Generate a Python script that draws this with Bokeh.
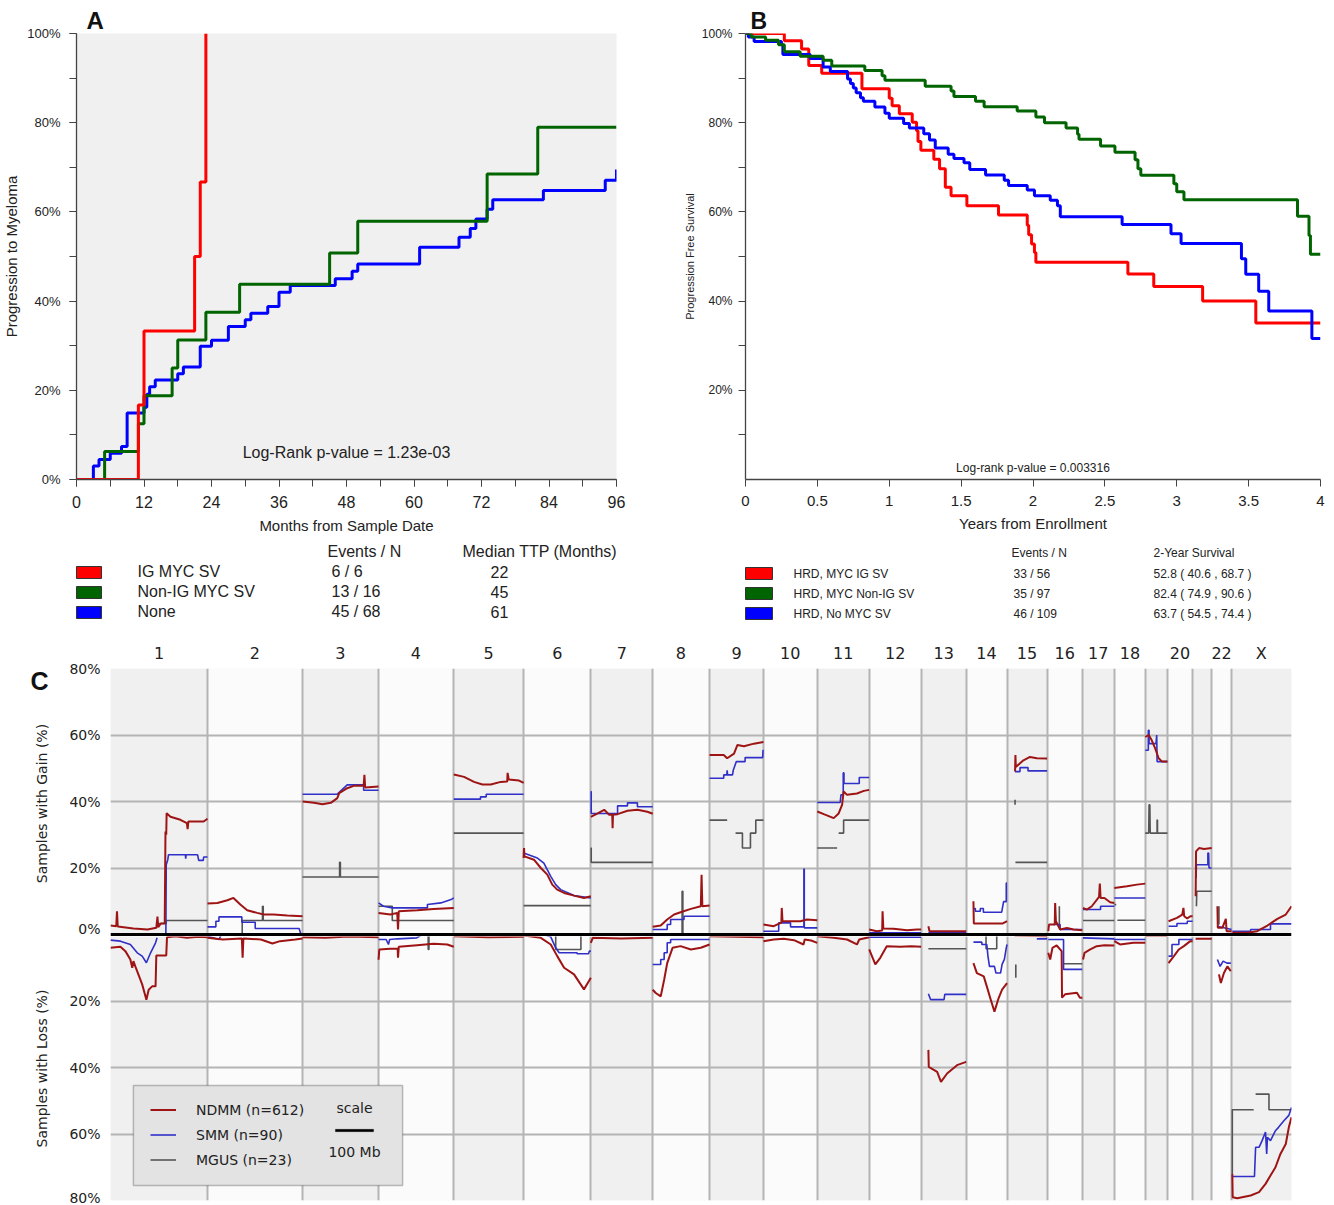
import math
from bokeh.plotting import figure
from bokeh.layouts import column, row
from bokeh.models import (Range1d, SingleIntervalTicker, FixedTicker, Span, Title,
                          BoxAnnotation, Legend, LegendItem, Label)
from bokeh.embed import file_html
from bokeh.resources import INLINE
from bokeh.core.properties import value

SANS = "Liberation Sans"
DV = "DejaVu Sans"

# ---------------- Panel A data (progression to myeloma) ----------------
a_names = ["IG MYC SV", "Non-IG MYC SV", "None"]
a_colors = ["#ff0000", "#006400", "#0000ff"]
a_events = ["6 / 6", "13 / 16", "45 / 68"]
a_median = ["22", "45", "61"]
a_ig_months = [0, 11, 12, 21, 22, 23]
a_ig_pct = [0, 16.7, 33.3, 50.0, 66.7, 100.0]
a_nonig_months = [0, 5, 11, 12, 17, 18, 23, 29, 45, 50, 73, 82, 96]
a_nonig_pct = [0, 6.3, 12.5, 18.8, 25.0, 31.3, 37.5, 43.8, 50.8, 57.9, 68.5, 79.0, 79.0]
a_none_months = [0, 3, 4, 6, 8, 9, 12, 12.5, 13, 14, 18, 19, 22, 24, 27, 30, 31, 34, 36, 38,
                 46, 49, 50, 61, 68, 70, 71, 73, 74, 83, 94, 96]
a_none_pct = [0, 3.0, 4.5, 5.9, 7.4, 14.9, 16.2, 19.1, 20.8, 22.3, 23.7, 25.2, 29.9, 31.2, 34.3,
              35.8, 37.3, 38.8, 42.0, 43.5, 45.0, 46.7, 48.3, 52.1, 54.3, 56.3, 58.4, 60.6, 62.7,
              64.8, 67.1, 69.5]
a_yticks = [0, 20, 40, 60, 80, 100]

# ---------------- Panel B data (progression free survival) ----------------
b_names = ["HRD, MYC IG SV", "HRD, MYC Non-IG SV", "HRD, No MYC SV"]
b_colors = ["#ff0000", "#006400", "#0000ff"]
b_events = ["33 / 56", "35 / 97", "46 / 109"]
b_surv = ["52.8 ( 40.6 , 68.7 )", "82.4 ( 74.9 , 90.6 )", "63.7 ( 54.5 , 74.4 )"]
b_ig_years = [0, 0.27, 0.39, 0.44, 0.53, 0.81, 1.0, 1.02, 1.07, 1.16, 1.19, 1.2, 1.22, 1.31, 1.35,
              1.39, 1.43, 1.54, 1.76, 1.96, 1.97, 1.99, 2.01, 2.02, 2.66, 2.84, 3.18, 3.55, 4.0]
b_ig_pct = [100, 98.4, 96.5, 92.8, 91.1, 87.6, 85.5, 83.8, 82.0, 80.1, 78.2, 75.8, 73.8, 71.8, 69.7,
            65.5, 63.6, 61.4, 59.3, 57.0, 54.9, 52.8, 50.9, 48.7, 46.1, 43.3, 40.0, 35.1, 35.1]
b_nonig_years = [0, 0.04, 0.14, 0.23, 0.27, 0.38, 0.54, 0.60, 0.83, 0.95, 0.97, 1.25, 1.43, 1.45,
                 1.60, 1.66, 1.89, 2.02, 2.08, 2.23, 2.31, 2.32, 2.47, 2.57, 2.71, 2.73, 2.75,
                 2.98, 3.0, 3.05, 3.84, 3.92, 3.93, 4.0]
b_nonig_pct = [100, 99.2, 98.5, 97.5, 95.9, 94.9, 94.0, 92.7, 91.7, 90.5, 89.5, 88.2, 87.1, 85.9,
               84.8, 83.6, 82.6, 81.3, 80.0, 78.8, 77.4, 76.3, 74.8, 73.4, 71.7, 69.7, 68.2,
               66.3, 64.5, 62.7, 59.0, 54.7, 50.5, 50.5]
b_none_years = [0, 0.02, 0.06, 0.25, 0.26, 0.45, 0.54, 0.59, 0.71, 0.73, 0.75, 0.77, 0.80, 0.82,
                0.90, 0.97, 1.0, 1.1, 1.14, 1.24, 1.28, 1.32, 1.41, 1.45, 1.52, 1.56, 1.67, 1.80,
                1.83, 1.96, 2.01, 2.12, 2.17, 2.19, 2.62, 2.96, 3.03, 3.45, 3.48, 3.57, 3.64,
                3.94, 4.0]
b_none_pct = [100, 99.2, 98.2, 97.5, 95.3, 94.4, 92.5, 91.5, 89.8, 88.8, 87.8, 86.7, 85.6, 84.8,
              83.5, 82.1, 81.0, 79.8, 78.8, 77.5, 76.1, 74.3, 72.9, 72.0, 71.0, 69.5, 68.3, 67.1,
              65.9, 64.9, 63.6, 62.6, 61.4, 58.9, 57.2, 55.1, 52.9, 49.5, 46.0, 42.2, 37.8,
              31.6, 31.6]
b_xticks = [0, 0.5, 1, 1.5, 2, 2.5, 3, 3.5, 4]
b_yticks = [20, 40, 60, 80, 100]

# ---------------- Panel C data (copy-number frequency, Mb within chromosome, %) ----------------
chrom_names = ["1", "2", "3", "4", "5", "6", "7", "8", "9", "10", "11", "12", "13", "14", "15",
               "16", "17", "18", "19", "20", "21", "22", "X"]
chrom_mb = [254, 249, 199, 197, 183, 176, 162, 149, 141, 141, 136, 136, 118, 107, 105, 92, 84,
            81, 58, 66, 50, 52, 157]
chrom_unlabeled = ["19", "21"]
c_gain_ticks = [0, 20, 40, 60, 80]
c_loss_ticks = [-80, -60, -40, -20]
c_series = ["NDMM (n=612)", "SMM (n=90)", "MGUS (n=23)"]
c_colors = ["#9e1414", "#3030c8", "#555555"]
SCALE_MB = 100

ndmm_gain = {
    "1": [(0, 2.7), (15, 2.5), (17, 7), (19, 2.4), (60, 1.8), (97, 1.5), (120, 2.0), (123, 5.4),
          (125, 2.2), (132, 3.3), (142, 3.3), (144, 31), (146, 30), (147, 36.5), (157, 35.4),
          (183, 34.5), (200, 33.5), (202, 31.7), (204, 34), (228, 34), (244, 34), (254, 34.8)],
    "2": [(0, 9.3), (26, 9.5), (52, 10.3), (68, 11), (86, 9), (104, 7.3), (130, 6.5), (148, 6),
          (173, 6), (209, 5.7), (249, 5.5)],
    "3": [(0, 40), (30, 39.6), (52, 39.2), (74, 39.6), (91, 41), (96, 42.5), (117, 44), (134, 44.7),
          (160, 44.7), (162, 48), (164, 44.2), (199, 44.5)],
    "4": [(0, 6.5), (31, 6), (49, 6.5), (51, 1.5), (53, 7), (101, 7.3), (144, 7.7), (197, 8)],
    "5": [(0, 48.1), (27, 47.4), (53, 45.9), (75, 45.1), (97, 45.1), (123, 45.9), (140, 46),
          (141, 48.6), (144, 46.6), (171, 46.3), (183, 45.6)],
    "6": [(0, 23), (1, 26), (2, 23.5), (27, 22.5), (45, 20), (62, 18), (75, 15), (88, 13.5),
          (106, 12.5), (132, 11.7), (158, 11), (176, 11.5)],
    "7": [(0, 35.4), (18, 36.4), (35, 37.5), (48, 36), (56, 36), (57, 32), (58, 36), (70, 36.2),
          (96, 37.2), (122, 37.5), (148, 36.9), (162, 36.3)],
    "8": [(0, 2.3), (21, 2.7), (38, 4.5), (56, 6), (73, 6.7), (100, 7.7), (126, 8.5), (128, 18),
          (130, 8.5), (149, 8.7)],
    "9": [(0, 54), (37, 54), (46, 53), (64, 54.4), (73, 57), (90, 56.6), (116, 57.4), (141, 57.9)],
    "10": [(0, 3), (27, 2.5), (45, 3.5), (47, 3.5), (48, 8), (50, 4), (97, 4), (114, 4.5),
           (141, 4.3)],
    "11": [(0, 37), (17, 36.2), (43, 35), (56, 36.4), (65, 39), (69, 43), (78, 42), (104, 42.4),
           (122, 43.2), (136, 43.5)],
    "12": [(0, 1.5), (20, 1), (34, 1.2), (35, 7), (37, 1.8), (64, 1.7), (99, 1.3), (125, 1.5),
           (136, 1.5)],
    "13": [(19, 2.5), (22, 1), (118, 1)],
    "14": [(19, 10), (20, 3.3), (60, 3.3), (95, 3.3), (107, 4)],
    "15": [(21, 49), (22, 54), (23, 50.4), (43, 52.4), (60, 53.4), (78, 53), (105, 52.9)],
    "16": [(3, 1), (5, 3), (20, 3), (21, 9.5), (23, 4), (34, 1.5), (52, 2), (69, 1.5), (92, 1.3)],
    "17": [(2, 8), (12, 7.5), (25, 8.5), (44, 11.3), (46, 15.3), (48, 11), (58, 11), (73, 9.7),
           (84, 9.5)],
    "18": [(0, 14), (33, 14.5), (59, 15), (81, 15.3)],
    "19": [(0, 59.4), (9, 60), (17, 58.4), (26, 56), (35, 53), (44, 52), (58, 52)],
    "20": [(3, 4), (25, 5), (39, 6), (42, 8), (44, 5.5), (52, 4.8), (60, 5.5), (66, 5.5)],
    "21": [(8, 11.5), (9, 25), (17, 26), (30, 25.7), (50, 26)],
    "22": [(15, 8.5), (16, 2), (28, 2), (37, 4.7), (39, 1), (52, 1)],
    "X": [(2, 0.5), (41, 0.5), (67, 1), (94, 2.7), (120, 4.7), (142, 6), (157, 8.5)],
}
ndmm_loss = {
    "1": [(0, 4), (26, 3.7), (39, 5), (52, 7.5), (57, 10), (60, 8), (65, 9.6), (73, 12), (83, 15),
          (94, 19.6), (100, 16.6), (109, 15.6), (118, 15.6), (120, 6.3), (146, 6.3), (148, 0.8),
          (170, 0.5), (200, 1.0), (230, 0.7), (254, 0.8)],
    "2": [(0, 1.0), (40, 1.5), (90, 1.2), (92, 7), (94, 1.2), (140, 1.5), (170, 2.7), (190, 2.0),
          (230, 1.5), (249, 1.2)],
    "3": [(0, 0.8), (60, 1), (120, 0.6), (199, 0.8)],
    "4": [(0, 7.6), (2, 4.5), (31, 4.3), (50, 4.3), (51, 7), (53, 3.7), (101, 3.2), (144, 2.8),
          (180, 3), (197, 3.7)],
    "5": [(0, 0.5), (90, 0.8), (183, 0.7)],
    "6": [(0, 0.3), (45, 1), (71, 3), (88, 6.5), (106, 10), (132, 12), (158, 16.5), (171, 14),
          (176, 13)],
    "7": [(0, 2.5), (5, 1), (80, 1.2), (162, 1)],
    "8": [(0, 16.6), (8, 17.6), (21, 18.6), (30, 13.6), (38, 8.6), (52, 4), (73, 3.5), (100, 4.5),
          (126, 4), (149, 3)],
    "9": [(0, 0.5), (70, 0.7), (141, 0.8)],
    "10": [(0, 2), (27, 1.5), (53, 1.3), (80, 1.7), (105, 3), (108, 1.5), (125, 1.8), (141, 2.5)],
    "11": [(0, 0.5), (43, 1), (78, 1.5), (104, 3), (110, 1.5), (136, 0.8)],
    "12": [(0, 4.5), (16, 9), (29, 7), (46, 3.5), (81, 3.7), (110, 3.5), (136, 3.7)],
    "13": [(19, 34.7), (20, 39.8), (42, 41.3), (52, 44.3), (68, 41.8), (94, 39.3), (118, 38.3)],
    "14": [(19, 8.6), (28, 11.6), (46, 12.6), (54, 15.6), (63, 19.1), (74, 23.2), (85, 19.1),
           (94, 16.6), (107, 14.6)],
    "15": [(20, 0.3), (105, 0.5)],
    "16": [(3, 5.5), (8, 7.5), (14, 4), (25, 3.3), (38, 5), (39, 19), (47, 18), (78, 17.5),
           (86, 19), (92, 19)],
    "17": [(2, 7.5), (6, 5.5), (21, 4.5), (38, 3.5), (58, 3.2), (84, 3.3)],
    "18": [(0, 2), (15, 3), (50, 2.5), (81, 2.5)],
    "19": [(0, 0.4), (58, 0.4)],
    "20": [(3, 8.6), (17, 6.5), (30, 4.5), (43, 3.5), (60, 2), (66, 2)],
    "21": [(8, 1.3), (50, 1.3)],
    "22": [(19, 12), (24, 14.6), (32, 11.6), (41, 9.6), (50, 11)],
    "X": [(2, 72), (3, 79), (15, 79.3), (50, 78.5), (72, 77.5), (89, 75), (102, 72.5), (115, 70),
          (128, 66), (142, 63), (150, 58), (157, 55)],
}
smm_gain = {
    "1": [(145, 0), (146, 21), (150, 22.5), (152, 24), (196, 24), (197, 22.8), (198, 24), (228, 24),
          (231, 22.3), (243, 22.3), (244, 23.3), (254, 23.3)],
    "2": [(0, 2.3), (22, 2.3), (22, 4), (30, 4), (30, 5.3), (90, 5.3), (90, 3.7), (125, 3.7),
          (125, 1.8), (240, 1.8), (244, 0.3)],
    "3": [(0, 42.2), (91, 42.2), (117, 45), (160, 45), (160, 43.4), (199, 43.4)],
    "4": [(0, 9.5), (13, 8.5), (36, 8), (128, 8), (128, 9), (163, 9.5), (190, 10.5), (197, 11)],
    "5": [(0, 40.7), (70, 40.7), (70, 41.4), (85, 41.4), (85, 42.2), (183, 42.2)],
    "6": [(0, 24.5), (36, 23), (53, 21.5), (71, 17.5), (84, 15), (97, 13.5), (132, 11.7), (176, 11)],
    "7": [(0, 43), (1, 43), (1, 36.4), (70, 36.4), (70, 38.7), (96, 38.7), (96, 39.6), (122, 39.6),
          (122, 38.4), (162, 38.4)],
    "8": [(0, 1.5), (38, 1.5), (38, 3), (47, 3), (47, 4.5), (82, 4.5), (82, 5.5), (149, 5.5)],
    "9": [(0, 47), (37, 47), (37, 48), (45, 48), (46, 49.4), (47, 48), (60, 48), (62, 49.4),
          (70, 52), (93, 52), (93, 53.2), (139, 53.2), (140, 55.4), (141, 55.4)],
    "10": [(0, 1), (40, 1), (40, 3.5), (71, 3.5), (71, 2.3), (106, 2.3), (106, 19.7), (107, 19.7),
           (107, 2), (141, 2)],
    "11": [(0, 39.7), (60, 39.7), (62, 42), (68, 42), (68, 48.6), (70, 48.6), (70, 45.4),
           (110, 45.4), (110, 47.2), (136, 47.2)],
    "12": [(0, 0.5), (136, 0.5)],
    "13": [(19, 0.5), (118, 0.5)],
    "14": [(19, 7.8), (24, 7.8), (24, 7), (37, 7), (37, 7.8), (45, 7.8), (45, 6.7), (93, 6.7),
           (98, 9.9), (105, 9.9), (105, 15.5), (107, 15.5)],
    "15": [(21, 49), (34, 49), (34, 50.2), (55, 50.2), (55, 49.2), (105, 49.2)],
    "16": [(18, 3), (34, 3), (34, 1.5), (92, 1.5)],
    "17": [(2, 7.5), (48, 7.5), (48, 8.5), (84, 8.5)],
    "18": [(0, 11), (81, 11)],
    "19": [(0, 55.4), (8, 55.4), (8, 61.4), (10, 61.4), (10, 57.4), (28, 57.4), (30, 60), (31, 52),
           (58, 52)],
    "20": [(3, 2.5), (25, 2.5), (25, 3.3), (52, 3.3), (52, 4), (66, 4)],
    "21": [(9, 17), (10, 21), (40, 21), (40, 24.5), (42, 24.5), (43, 20), (50, 20)],
    "22": [(15, 2.5), (52, 1.5)],
    "X": [(2, 1), (50, 1), (50, 1.5), (102, 1.5), (102, 3.2), (157, 3.2)],
}
smm_loss = {
    "1": [(0, 1.7), (26, 2), (52, 3), (70, 5.5), (83, 6.5), (94, 8.5), (105, 5.5), (118, 2.5),
          (122, 1)],
    "2": [(0, 0.5), (30, 1.5), (35, 0.3)],
    "4": [(0, 1.5), (20, 1.5), (26, 3), (29, 1.5), (50, 1.3), (100, 1), (110, 0.3)],
    "6": [(60, 0.3), (71, 0.7), (84, 4), (93, 5.5), (140, 5.5), (140, 5.8), (170, 5.8), (172, 5),
          (176, 5)],
    "8": [(0, 9), (21, 9), (21, 7.5), (30, 7.5), (30, 5.5), (38, 5.5), (38, 2.5), (47, 2.5),
          (47, 1.5), (149, 1.5)],
    "12": [(0, 0.8), (136, 0.8)],
    "13": [(19, 17.8), (25, 19.6), (60, 19.6), (62, 18), (118, 18)],
    "14": [(19, 2.3), (41, 2.3), (41, 3), (54, 3), (57, 6.5), (61, 9.6), (74, 9.6), (78, 11.6),
           (90, 11.6), (94, 9), (100, 7.5), (105, 4), (107, 3)],
    "15": [(78, 1.3), (105, 1.3)],
    "16": [(3, 1.5), (43, 1.5), (43, 10.5), (92, 10.5)],
    "17": [(2, 1), (84, 1.3)],
    "18": [(0, 1.5), (81, 1.5)],
    "20": [(3, 6.5), (12, 6.5), (12, 3), (30, 3), (30, 1.5), (66, 1.5)],
    "22": [(15, 7.5), (22, 9.6), (30, 8), (40, 8.6), (50, 8.6)],
    "X": [(2, 72.8), (58, 72.8), (60, 72.8), (63, 64), (72, 64), (80, 62), (89, 59.4), (92, 66),
          (94, 61), (102, 62), (115, 59), (123, 58), (137, 56), (150, 54.4), (157, 52)],
}
mgus_gain = {
    "1": [(124, 3.3), (146, 3.3), (146, 4.2), (254, 4.2)],
    "2": [(91, 0), (91, 4.2), (144, 4.2), (144, 8.5), (146, 8.5), (146, 4.2), (249, 4.2)],
    "3": [(0, 17.3), (97, 17.3), (97, 21.7), (99, 21.7), (99, 17.3), (199, 17.3)],
    "4": [(0, 8.5), (36, 8.5), (36, 4.2), (197, 4.2)],
    "5": [(0, 30.5), (183, 30.5)],
    "6": [(0, 8.7), (176, 8.7)],
    "7": [(0, 26), (1, 26), (1, 21.7), (162, 21.7)],
    "8": [(77, 0), (77, 13), (79, 13), (79, 0)],
    "9": [(0, 34.4), (46, 34.4), None, (68, 30.5), (86, 30.5), (86, 26), (107, 26), (107, 30.5),
          (121, 30.5), (121, 34.4), (141, 34.4)],
    "11": [(0, 26), (52, 26), None, (56, 30.5), (69, 30.5), (69, 34.4), (136, 34.4)],
    "15": [(21, 40.5), (21, 39), None, (22, 21.7), (105, 21.7)],
    "16": [(32, 8.5), (32, 2.5)],
    "17": [(2, 4.2), (84, 4.2)],
    "18": [(0, 9), (5, 9), None, (8, 4.3), (81, 4.3)],
    "19": [(0, 30.5), (9, 30.5), (10, 39), (12, 39), (13, 30.5), (31, 30.5), (31, 34.4),
           (32, 34.4), (32, 30.5), (58, 30.5)],
    "21": [(10, 8.5), (11, 13), (50, 13)],
    "22": [(19, 8.5), (19, 3)],
}
mgus_loss = {
    "4": [(130, 0), (130, 4.5), (132, 4.5), (132, 0)],
    "6": [(84, 0), (84, 4.5), (150, 4.5), (150, 0)],
    "13": [(19, 4.3), (118, 4.3)],
    "14": [(52, 0), (52, 4.3), (80, 4.3), (80, 0)],
    "15": [(23, 9), (23, 13)],
    "16": [(43, 8.8), (92, 8.8)],
    "X": [(2, 72), (2, 52.7), (58, 52.7), None, (63, 48), (98, 48), (98, 52.7), (157, 52.7)],
}

# ======================= helpers =======================
def style_axis(ax, tick_size, color="#444444"):
    ax.axis_line_color = color
    ax.axis_line_width = 1.3
    ax.major_tick_line_color = color
    ax.minor_tick_line_color = color
    ax.major_tick_in = 0
    ax.minor_tick_in = 0
    ax.major_tick_out = 7
    ax.minor_tick_out = 7
    ax.major_label_text_font = SANS
    ax.major_label_text_font_size = tick_size
    ax.major_label_text_color = "#222222"
    ax.axis_label_text_font = SANS
    ax.axis_label_text_font_style = "normal"
    ax.axis_label_text_color = "#222222"


def panel_title(p, letter, offset, size):
    p.title = Title(text=letter, align="left", offset=offset, standoff=0,
                    text_font=SANS, text_font_style="bold", text_font_size=size,
                    text_color="#111111")


# ======================= Panel A =======================
pA = figure(width=680, height=540, x_range=Range1d(0, 96), y_range=Range1d(0, 100),
            output_backend="svg", toolbar_location=None,
            min_border_left=74, min_border_right=64, min_border_top=30, min_border_bottom=61)
panel_title(pA, "A", 10, "24px")
pA.background_fill_color = "#f0f0f0"
pA.outline_line_color = None
pA.grid.visible = False
for t, v, c in [(a_none_months, a_none_pct, a_colors[2]),
                (a_nonig_months, a_nonig_pct, a_colors[1]),
                (a_ig_months, a_ig_pct, a_colors[0])]:
    pA.step(t, v, mode="after", line_color=c, line_width=3)
style_axis(pA.xaxis[0], "16px")
style_axis(pA.yaxis[0], "13px")
pA.xaxis.ticker = SingleIntervalTicker(interval=12, num_minor_ticks=2)
pA.yaxis.ticker = SingleIntervalTicker(interval=20, num_minor_ticks=2)
pA.yaxis.major_label_overrides = {v: f"{v}%" for v in a_yticks}
pA.xaxis.major_label_standoff = 9
pA.yaxis.major_label_standoff = 9
pA.xaxis.axis_label = "Months from Sample Date"
pA.xaxis.axis_label_text_font_size = "15px"
pA.xaxis.axis_label_standoff = 6
pA.yaxis.axis_label = "Progression to Myeloma"
pA.yaxis.axis_label_text_font_size = "15px"
pA.yaxis.axis_label_standoff = 4
pA.add_layout(Label(x=48, y=6, text="Log-Rank p-value = 1.23e-03", text_font=SANS,
                    text_font_size="16px", text_color="#222222", text_align="center",
                    text_baseline="middle"))

# ======================= Panel B =======================
pB = figure(width=654, height=540, x_range=Range1d(0, 4), y_range=Range1d(0, 100),
            output_backend="svg", toolbar_location=None,
            min_border_left=63, min_border_right=14, min_border_top=33, min_border_bottom=59)
panel_title(pB, "B", 5, "23px")
pB.background_fill_color = "white"
pB.outline_line_color = None
pB.grid.visible = False
for t, v, c in [(b_ig_years, b_ig_pct, b_colors[0]),
                (b_none_years, b_none_pct, b_colors[2]),
                (b_nonig_years, b_nonig_pct, b_colors[1])]:
    pB.step(t, v, mode="after", line_color=c, line_width=3)
style_axis(pB.xaxis[0], "15px")
style_axis(pB.yaxis[0], "12px")
pB.xaxis.ticker = FixedTicker(ticks=b_xticks)
pB.xaxis.major_label_overrides = {v: f"{v:g}" for v in b_xticks}
pB.yaxis.ticker = FixedTicker(ticks=b_yticks, minor_ticks=[v - 10 for v in b_yticks])
pB.yaxis.major_label_overrides = {v: f"{v}%" for v in b_yticks}
pB.xaxis.major_label_standoff = 9
pB.yaxis.major_label_standoff = 6
pB.xaxis.axis_label = "Years from Enrollment"
pB.xaxis.axis_label_text_font_size = "15px"
pB.xaxis.axis_label_standoff = 6
pB.yaxis.axis_label = "Progression Free Survival"
pB.yaxis.axis_label_text_font_size = "11px"
pB.yaxis.axis_label_standoff = 3
pB.add_layout(Label(x=2.0, y=2.5, text="Log-rank p-value = 0.003316", text_font=SANS,
                    text_font_size="12px", text_color="#222222", text_align="center",
                    text_baseline="middle"))

# ======================= Legends for A and B =======================
def blank_fig(w, h):
    f = figure(width=w, height=h, x_range=Range1d(0, w), y_range=Range1d(0, h),
               output_backend="svg", toolbar_location=None, min_border=0,
               x_axis_location=None, y_axis_location=None)
    f.grid.visible = False
    f.outline_line_color = None
    return f

row_y = [56, 36, 16]
legA = blank_fig(680, 88)
legA.rect(x=[88.5] * 3, y=row_y, width=25, height=12, fill_color=a_colors,
          line_color="#333333", line_width=1)
legA.text(x=[327, 462], y=[77, 77], text=["Events / N", "Median TTP (Months)"],
          text_font=value(SANS), text_font_size="16px", text_color="#222222",
          text_baseline="middle")
legA.text(x=[137] * 3, y=[v + 1 for v in row_y], text=a_names, text_font=value(SANS),
          text_font_size="16px", text_color="#222222", text_baseline="middle")
legA.text(x=[331] * 3, y=[v + 1 for v in row_y], text=a_events, text_font=value(SANS),
          text_font_size="16px", text_color="#222222", text_baseline="middle")
legA.text(x=[490] * 3, y=[v + 1 for v in row_y], text=a_median, text_font=value(SANS),
          text_font_size="16px", text_color="#222222", text_baseline="middle")

legB = blank_fig(654, 88)
legB.rect(x=[78.5] * 3, y=[v - 1 for v in row_y], width=27, height=12, fill_color=b_colors,
          line_color="#333333", line_width=1)
legB.text(x=[331, 473], y=[76, 76], text=["Events / N", "2-Year Survival"],
          text_font=value(SANS), text_font_size="12px", text_color="#222222",
          text_baseline="middle")
legB.text(x=[113] * 3, y=[v - 1 for v in row_y], text=b_names, text_font=value(SANS),
          text_font_size="12px", text_color="#222222", text_baseline="middle")
legB.text(x=[333] * 3, y=[v - 1 for v in row_y], text=b_events, text_font=value(SANS),
          text_font_size="12px", text_color="#222222", text_baseline="middle")
legB.text(x=[473] * 3, y=[v - 1 for v in row_y], text=b_surv, text_font=value(SANS),
          text_font_size="12px", text_color="#222222", text_baseline="middle")

# ======================= Panel C =======================
starts = []
acc = 0
for L in chrom_mb:
    starts.append(acc)
    acc += L
genome = acc
ends = [s + L for s, L in zip(starts, chrom_mb)]
centers = [int(round(s + L / 2)) for s, L in zip(starts, chrom_mb)]
shade = ["#f0f0f0" if i % 2 == 0 else "#fbfbfb" for i in range(len(chrom_names))]


def build(data, sign):
    xs, ys = [], []
    for i, name in enumerate(chrom_names):
        pts = data.get(name)
        if not pts:
            continue
        for pt in pts:
            if pt is None:
                xs.append(float("nan"))
                ys.append(float("nan"))
            else:
                xs.append(starts[i] + pt[0])
                ys.append(sign * pt[1])
        xs.append(float("nan"))
        ys.append(float("nan"))
    return xs, ys


def cn_fig(height, yr, ticks, top, bottom, above):
    f = figure(width=1274, height=height, x_range=Range1d(0, genome), y_range=yr,
               x_axis_location="above" if above else None, output_backend="svg",
               toolbar_location=None, min_border_left=50, min_border_right=43,
               min_border_top=top, min_border_bottom=bottom)
    f.background_fill_color = "#fbfbfb"
    f.outline_line_color = None
    f.quad(left=starts, right=ends, bottom=yr.start, top=yr.end, fill_color=shade,
           line_color=None, level="image")
    ya = f.yaxis[0]
    ya.ticker = FixedTicker(ticks=ticks)
    ya.major_label_overrides = {v: f"{abs(v)}%" for v in ticks}
    ya.axis_line_color = None
    ya.major_tick_line_color = None
    ya.minor_tick_line_color = None
    ya.major_tick_out = 0
    ya.minor_tick_out = 0
    ya.major_label_standoff = 10
    ya.major_label_text_font = DV
    ya.major_label_text_font_size = "14px"
    ya.major_label_text_color = "#222222"
    f.xgrid.ticker = FixedTicker(ticks=starts + [genome])
    f.xgrid.grid_line_color = "#b4b4b4"
    f.xgrid.grid_line_width = 2
    f.ygrid.ticker = FixedTicker(ticks=[-80, -60, -40, -20, 20, 40, 60, 80])
    f.ygrid.grid_line_color = "#b4b4b4"
    f.ygrid.grid_line_width = 2
    return f


# gain half holds the zero line fully (range reaches 0.6 % below zero)
pG = cn_fig(308, Range1d(-0.6, 80), c_gain_ticks, 40, 0, True)
xa = pG.xaxis[0]
xa.ticker = FixedTicker(ticks=[c for c, n in zip(centers, chrom_names) if n not in chrom_unlabeled])
xa.major_label_overrides = {c: n for c, n in zip(centers, chrom_names)}
xa.axis_line_color = None
xa.major_tick_line_color = None
xa.minor_tick_line_color = None
xa.major_tick_out = 0
xa.minor_tick_out = 0
xa.major_label_standoff = 6
xa.major_label_text_font = DV
xa.major_label_text_font_size = "16px"
xa.major_label_text_color = "#222222"

pL = cn_fig(269, Range1d(-80, -0.6), c_loss_ticks, 0, 5, False)

rendL = []
for gain, loss, col, w in [(mgus_gain, mgus_loss, c_colors[2], 1.6),
                           (smm_gain, smm_loss, c_colors[1], 1.6),
                           (ndmm_gain, ndmm_loss, c_colors[0], 2.0)]:
    gx, gy = build(gain, 1)
    pG.line(gx, gy, line_color=col, line_width=w)
    lx, ly = build(loss, -1)
    rendL.append(pL.line(lx, ly, line_color=col, line_width=w))
r_mgus, r_smm, r_ndmm = rendL

pG.add_layout(Span(location=0, dimension="width", line_color="black", line_width=3))

pL.add_layout(BoxAnnotation(left=60, right=765, top=-45.4, bottom=-75.5, fill_color="#e3e3e3",
                            fill_alpha=1, line_color="#333333", line_width=1.5))
scale_mid = 639
pL.add_layout(BoxAnnotation(left=scale_mid - SCALE_MB / 2, right=scale_mid + SCALE_MB / 2,
                            top=-58.6, bottom=-59.3, fill_color="black", fill_alpha=1,
                            line_color="black", line_width=1))
legC = Legend(items=[LegendItem(label=c_series[0], renderers=[r_ndmm]),
                     LegendItem(label=c_series[1], renderers=[r_smm]),
                     LegendItem(label=c_series[2], renderers=[r_mgus])],
              location=(40, 32), orientation="vertical")
legC.background_fill_alpha = 0
legC.border_line_color = None
legC.padding = 0
legC.margin = 0
legC.spacing = 8
legC.glyph_width = 26
legC.glyph_height = 17
legC.label_height = 17
legC.label_standoff = 20
legC.label_text_font = DV
legC.label_text_font_size = "14px"
legC.label_text_color = "#222222"
pL.add_layout(legC)
pL.add_layout(Label(x=scale_mid, y=-52.3, text="scale", text_font=DV, text_font_size="14px",
                    text_color="#222222", text_align="center", text_baseline="middle"))
pL.add_layout(Label(x=scale_mid, y=-65.3, text=f"{SCALE_MB} Mb", text_font=DV,
                    text_font_size="14px", text_color="#222222", text_align="center",
                    text_baseline="middle"))

# left strip with panel letter and y titles of panel C (pixel coordinates, y up)
stripC = blank_fig(60, 577)
stripC.text(x=[30], y=[525], text=["C"], text_font=value(SANS), text_font_style="bold",
            text_font_size="25px", text_color="#111111", text_baseline="alphabetic")
stripC.text(x=[41, 41], y=[402, 137], text=["Samples with Gain (%)", "Samples with Loss (%)"],
            angle=math.pi / 2, text_align="center", text_baseline="middle",
            text_font=value(DV), text_font_size="14px", text_color="#222222")

layout = column(row(pA, pB), row(legA, legB), row(stripC, column(pG, pL)))
open("out.html", "w").write(file_html(layout, INLINE))
